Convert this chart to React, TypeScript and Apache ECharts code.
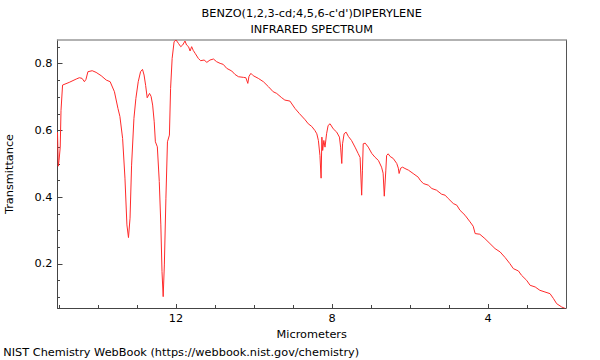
import React, { useEffect, useRef } from "react";
import * as echarts from "echarts";

// Wavelength (micrometers) and transmittance
const wavelength = [
  15.04, 15.02, 15.0, 14.97, 14.95, 14.91, 14.74, 14.56, 14.48, 14.41, 14.35, 14.31, 14.26, 14.15, 14.05,
  13.92, 13.79, 13.69, 13.58, 13.49, 13.44, 13.37, 13.31, 13.26, 13.22, 13.18, 13.14, 13.08, 13.03, 12.97,
  12.91, 12.86, 12.82, 12.78, 12.74, 12.68, 12.64, 12.6, 12.56, 12.53, 12.48, 12.43, 12.39, 12.36, 12.33,
  12.3, 12.26, 12.22, 12.17, 12.14, 12.1, 12.05, 12.0, 11.94, 11.88, 11.83, 11.77, 11.73, 11.68, 11.64,
  11.6, 11.56, 11.51, 11.43, 11.37, 11.28, 11.21, 11.13, 11.04, 10.96, 10.87, 10.79, 10.7, 10.57, 10.49,
  10.4, 10.27, 10.21, 10.16, 10.13, 10.08, 10.02, 9.89, 9.76, 9.63, 9.51, 9.42, 9.29, 9.21, 9.08,
  8.95, 8.84, 8.69, 8.61, 8.52, 8.44, 8.39, 8.35, 8.31, 8.28, 8.26, 8.24, 8.21, 8.18, 8.14,
  8.1, 8.05, 7.97, 7.88, 7.81, 7.78, 7.75, 7.73, 7.69, 7.64, 7.58, 7.5, 7.41, 7.33, 7.28,
  7.24, 7.22, 7.2, 7.15, 7.07, 6.98, 6.9, 6.81, 6.73, 6.69, 6.66, 6.62, 6.6, 6.56, 6.51,
  6.43, 6.34, 6.3, 6.28, 6.24, 6.19, 6.13, 6.04, 5.92, 5.79, 5.74, 5.66, 5.53, 5.44, 5.32,
  5.19, 5.1, 5.02, 4.89, 4.8, 4.72, 4.59, 4.46, 4.38, 4.33, 4.21, 4.08, 3.95, 3.82, 3.69,
  3.56, 3.44, 3.35, 3.22, 3.14, 3.01, 2.92, 2.79, 2.67, 2.54, 2.41, 2.32, 2.24, 2.11, 2.01,
];
const transmittance = [
  0.595, 0.493, 0.51, 0.55, 0.66, 0.736, 0.744, 0.754, 0.758, 0.756, 0.746, 0.753, 0.776, 0.779, 0.774,
  0.764, 0.751, 0.746, 0.716, 0.666, 0.642, 0.576, 0.457, 0.317, 0.279, 0.337, 0.496, 0.636, 0.696, 0.746,
  0.776, 0.783, 0.766, 0.735, 0.698, 0.711, 0.702, 0.676, 0.626, 0.566, 0.551, 0.447, 0.317, 0.177, 0.102,
  0.197, 0.397, 0.566, 0.586, 0.726, 0.816, 0.866, 0.871, 0.861, 0.851, 0.856, 0.868, 0.856, 0.851, 0.838,
  0.851, 0.84, 0.831, 0.816, 0.809, 0.811, 0.804, 0.811, 0.814, 0.806, 0.801, 0.798, 0.786, 0.778, 0.768,
  0.761, 0.759, 0.758, 0.741, 0.762, 0.771, 0.764, 0.756, 0.746, 0.731, 0.716, 0.711, 0.698, 0.691, 0.688,
  0.666, 0.651, 0.632, 0.62, 0.612, 0.6, 0.59, 0.57, 0.525, 0.457, 0.58, 0.54, 0.57, 0.55, 0.59,
  0.615, 0.62, 0.605, 0.595, 0.58, 0.55, 0.501, 0.56, 0.59, 0.595, 0.582, 0.57, 0.55, 0.531, 0.519,
  0.406, 0.481, 0.56, 0.562, 0.55, 0.531, 0.52, 0.51, 0.49, 0.472, 0.403, 0.481, 0.525, 0.53, 0.522,
  0.516, 0.501, 0.487, 0.471, 0.487, 0.49, 0.486, 0.481, 0.471, 0.46, 0.451, 0.441, 0.436, 0.426, 0.421,
  0.409, 0.406, 0.396, 0.381, 0.376, 0.361, 0.346, 0.326, 0.313, 0.291, 0.289, 0.276, 0.261, 0.246, 0.236,
  0.219, 0.201, 0.186, 0.179, 0.166, 0.151, 0.136, 0.131, 0.121, 0.116, 0.111, 0.096, 0.081, 0.071, 0.066,
];

const xMajorTicks = [4, 8, 12];
const xMinorTicks = [3, 5, 6, 7, 9, 10, 11, 13, 14, 15];
const yMajorTicks = [0.2, 0.4, 0.6, 0.8];
const yMinorTicks = [0.1, 0.15, 0.25, 0.3, 0.35, 0.45, 0.5, 0.55, 0.65, 0.7, 0.75, 0.85];

const titleLines = ["BENZO(1,2,3-cd;4,5,6-c'd')DIPERYLENE", "INFRARED SPECTRUM"];
const xAxisName = "Micrometers";
const yAxisName = "Transmittance";
const footerText = "NIST Chemistry WebBook (https://webbook.nist.gov/chemistry)";

const X_MIN = 2.0;
const X_MAX = 15.04;
const Y_MIN = 0.068;
const Y_MAX = 0.871;

const FONT = "DejaVu Sans";
const FS = 11.3;

export default function App() {
  const ref = useRef<HTMLDivElement>(null);

  useEffect(() => {
    if (!ref.current) return;
    const chart = echarts.init(ref.current, null, { renderer: "svg" });
    const data = wavelength.map((w, i) => [w, transmittance[i]]);
    const axisColor = "#444";

    const option: any = {
      animation: false,
      backgroundColor: "#fff",
      grid: { left: 57.5, top: 40, width: 508.5, height: 268, containLabel: false, outerBoundsMode: "none" },
      xAxis: [
        {
          type: "value",
          min: X_MIN,
          max: X_MAX,
          inverse: true,
          position: "bottom",
          axisLine: { show: true, onZero: false, lineStyle: { color: axisColor, width: 1 } },
          axisTick: { show: true, inside: true, length: 4, customValues: xMajorTicks, lineStyle: { color: axisColor } },
          axisLabel: { customValues: xMajorTicks, color: "#000", fontFamily: FONT, fontSize: FS, margin: 5 },
          splitLine: { show: false },
          name: xAxisName,
          nameLocation: "middle",
          nameGap: 19,
          nameTextStyle: { color: "#000", fontFamily: FONT, fontSize: FS },
        },
        {
          type: "value",
          min: X_MIN,
          max: X_MAX,
          inverse: true,
          position: "bottom",
          axisLine: { show: false, onZero: false },
          axisTick: { show: true, inside: true, length: 3, customValues: xMinorTicks, lineStyle: { color: axisColor } },
          axisLabel: { show: false },
          splitLine: { show: false },
        },
        {
          type: "value",
          min: X_MIN,
          max: X_MAX,
          inverse: true,
          position: "top",
          axisLine: { show: true, onZero: false, lineStyle: { color: "#999", width: 1.5 } },
          axisTick: { show: false },
          axisLabel: { show: false },
          splitLine: { show: false },
        },
      ],
      yAxis: [
        {
          type: "value",
          min: Y_MIN,
          max: Y_MAX,
          position: "left",
          axisLine: { show: true, onZero: false, lineStyle: { color: axisColor, width: 1 } },
          axisTick: { show: true, inside: true, length: 5, customValues: yMajorTicks, lineStyle: { color: axisColor } },
          axisLabel: {
            customValues: yMajorTicks,
            color: "#000",
            fontFamily: FONT,
            fontSize: FS,
            margin: 5,
            formatter: (v: number) => v.toFixed(1),
          },
          splitLine: { show: false },
          name: yAxisName,
          nameLocation: "middle",
          nameRotate: 90,
          nameGap: 43,
          nameTextStyle: { color: "#000", fontFamily: FONT, fontSize: FS },
        },
        {
          type: "value",
          min: Y_MIN,
          max: Y_MAX,
          position: "left",
          axisLine: { show: false, onZero: false },
          axisTick: { show: true, inside: true, length: 2.5, customValues: yMinorTicks, lineStyle: { color: axisColor } },
          axisLabel: { show: false },
          splitLine: { show: false },
        },
        {
          type: "value",
          min: Y_MIN,
          max: Y_MAX,
          position: "right",
          axisLine: { show: true, onZero: false, lineStyle: { color: "#555", width: 1 } },
          axisTick: { show: false },
          axisLabel: { show: false },
          splitLine: { show: false },
        },
      ],
      series: [
        {
          type: "line",
          xAxisIndex: 0,
          yAxisIndex: 0,
          data,
          showSymbol: false,
          symbol: "none",
          lineStyle: { color: "#ff2a2a", width: 1 },
          itemStyle: { color: "#ff2a2a" },
          clip: true,
        },
      ],
      graphic: [
        {
          type: "text",
          x: 311.7,
          y: 13,
          style: { text: titleLines[0], font: `${FS}px "${FONT}"`, fill: "#000", textAlign: "center", textVerticalAlign: "middle" },
        },
        {
          type: "text",
          x: 311.7,
          y: 29.5,
          style: { text: titleLines[1], font: `${FS}px "${FONT}"`, fill: "#000", textAlign: "center", textVerticalAlign: "middle" },
        },
        {
          type: "text",
          x: 3.3,
          y: 352.5,
          style: { text: footerText, font: `${FS}px "${FONT}"`, fill: "#000", textAlign: "left", textVerticalAlign: "middle" },
        },
      ],
    };

    chart.setOption(option);
    return () => chart.dispose();
  }, []);

  return (
    <div
      ref={ref}
      style={{ position: "absolute", left: 0, top: 0, width: 600, height: 360, background: "#fff" }}
    />
  );
}
